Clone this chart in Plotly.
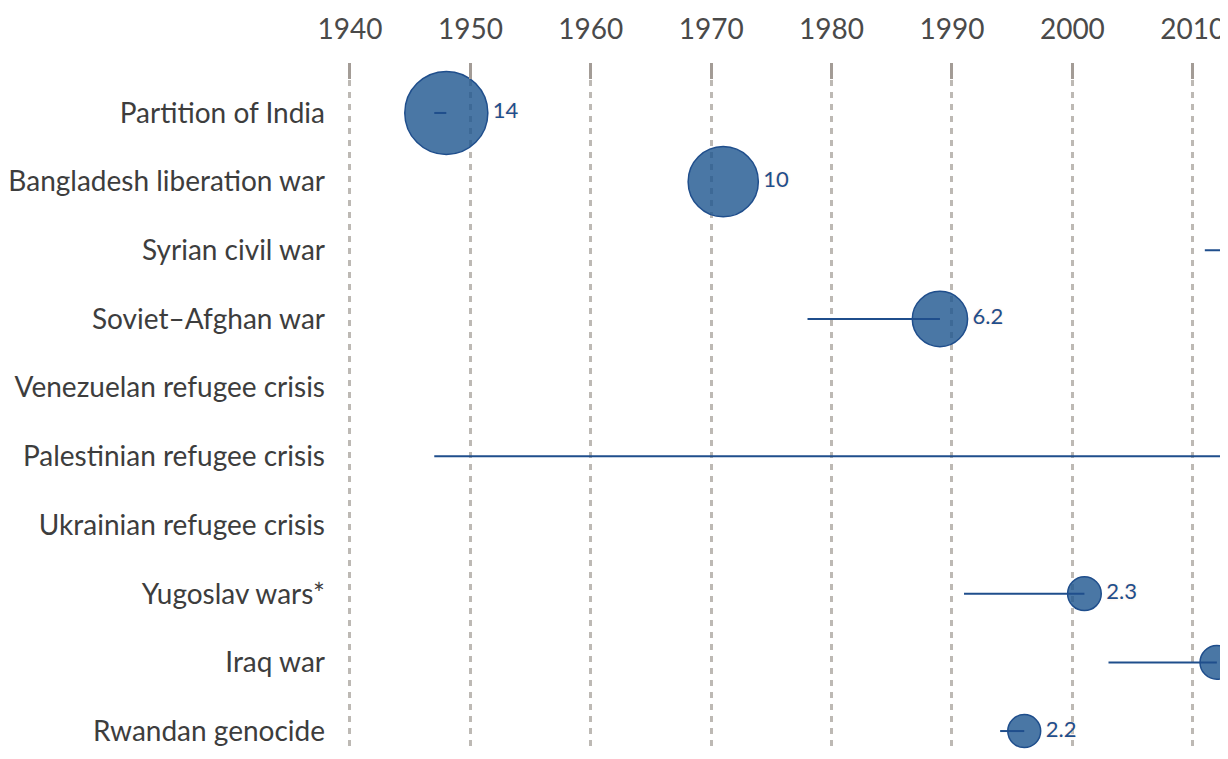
import plotly.graph_objects as go
import math

categories = [
    "Partition of India",
    "Bangladesh liberation war",
    "Syrian civil war",
    "Soviet\u2013Afghan war",
    "Venezuelan refugee crisis",
    "Palestinian refugee crisis",
    "Ukrainian refugee crisis",
    "Yugoslav wars*",
    "Iraq war",
    "Rwandan genocide",
]
start_year = [1947, 1971, 2011, 1978, 2015, 1947, 2022, 1991, 2003, 1994]
peak_year = [1948, 1971, 2016, 1989, 2023, 2023, 2023, 2001, 2012, 1996]
peak_millions = [14, 10, 13, 6.2, 7.7, 5.9, 6.4, 2.3, 2.3, 2.2]
labels = ["14", "10", "13", "6.2", "7.7", "5.9", "6.4", "2.3", "2.3", "2.2"]
x_ticks = [1940, 1950, 1960, 1970, 1980, 1990, 2000, 2010, 2020]

ypos = list(range(len(categories)))
X_RANGE = [1939.17, 2012.51]

LINE = "#1f4e8c"
FILL = "rgba(29,85,143,0.8)"
FONT = "Lato"

fig = go.Figure()

# bubbles (diameter proportional to sqrt of value); not clipped vertically,
# points whose centre is outside the x range are hidden by plotly
diam = [22.2 * math.sqrt(v) for v in peak_millions]
fig.add_trace(go.Scatter(
    x=peak_year, y=ypos, mode="markers",
    marker=dict(size=diam, sizemode="diameter", color=FILL, opacity=1,
                line=dict(color=LINE, width=1.5)),
    cliponaxis=False, hoverinfo="skip", showlegend=False,
))

# range lines
lx, ly = [], []
for s, p, y in zip(start_year, peak_year, ypos):
    lx += [s, p, None]
    ly += [y, y, None]
fig.add_trace(go.Scatter(
    x=lx, y=ly, mode="lines", line=dict(color=LINE, width=2),
    hoverinfo="skip", showlegend=False, cliponaxis=True,
))

# value labels (only those that fall inside the visible window)
vis_labels = [t if p < X_RANGE[1] - 5 else "" for t, p in zip(labels, peak_year)]
text_d = [1.6 * (d / 2 + 4) for d in diam]
fig.add_trace(go.Scatter(
    x=peak_year, y=ypos, mode="markers+text",
    marker=dict(size=text_d, sizemode="diameter", opacity=0, color="white"),
    text=vis_labels, textposition="middle right",
    textfont=dict(family=FONT, size=22, color=LINE,
                  shadow="0px 0px 3px #fde3cf"),
    cliponaxis=True, hoverinfo="skip", showlegend=False,
))

fig.update_layout(
    template="none",
    width=1220, height=751,
    margin=dict(l=332, r=5, t=72, b=7, autoexpand=False),
    paper_bgcolor="white", plot_bgcolor="white",
    font=dict(family=FONT),
)
fig.update_xaxes(
    side="top", range=X_RANGE, automargin=False,
    tickvals=x_ticks, ticktext=[str(t) for t in x_ticks],
    showgrid=True, gridcolor="#bdb9b4", gridwidth=3, griddash="6px,6px",
    ticks="outside", ticklen=16, tickwidth=3, tickcolor="#a39c96",
    tickfont=dict(family=FONT, size=28, color="#4a4a4a"),
    ticklabelstandoff=13,
    showline=False, zeroline=False,
)
fig.update_yaxes(
    range=[9.305, -0.48], automargin=False,
    tickvals=ypos, ticktext=categories,
    showgrid=False, zeroline=False, showline=False, ticks="",
    tickfont=dict(family=FONT, size=28, color="#3d3d3d"),
    ticklabelstandoff=14,
)

fig.write_html("out.html")
